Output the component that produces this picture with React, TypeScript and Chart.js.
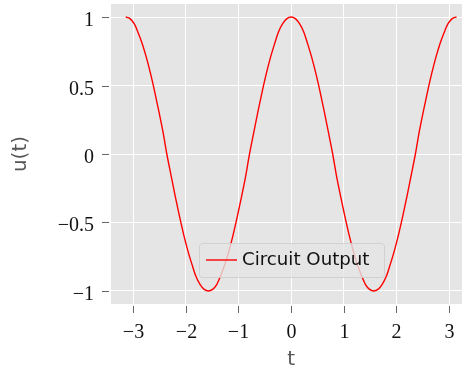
import React, { useEffect, useRef } from "react";
import { Chart, registerables } from "chart.js";

Chart.register(...registerables);

// Sampled circuit response u(t) over the window [-pi, pi]
const tValues = [
  -3.14, -3.06, -2.98, -2.91, -2.83, -2.75, -2.67, -2.59, -2.51, -2.43, -2.36,
  -2.28, -2.2, -2.12, -2.04, -1.96, -1.88, -1.81, -1.73, -1.65, -1.57, -1.49,
  -1.41, -1.34, -1.26, -1.18, -1.1, -1.02, -0.94, -0.86, -0.79, -0.71, -0.63,
  -0.55, -0.47, -0.39, -0.31, -0.24, -0.16, -0.08, 0, 0.08, 0.16, 0.24, 0.31,
  0.39, 0.47, 0.55, 0.63, 0.71, 0.79, 0.86, 0.94, 1.02, 1.1, 1.18, 1.26, 1.34,
  1.41, 1.49, 1.57, 1.65, 1.73, 1.81, 1.88, 1.96, 2.04, 2.12, 2.2, 2.28, 2.36,
  2.43, 2.51, 2.59, 2.67, 2.75, 2.83, 2.91, 2.98, 3.06, 3.14,
];
const uValues = [
  1, 0.988, 0.951, 0.891, 0.809, 0.707, 0.588, 0.454, 0.309, 0.156, 0, -0.156,
  -0.309, -0.454, -0.588, -0.707, -0.809, -0.891, -0.951, -0.988, -1, -0.988,
  -0.951, -0.891, -0.809, -0.707, -0.588, -0.454, -0.309, -0.156, 0, 0.156,
  0.309, 0.454, 0.588, 0.707, 0.809, 0.891, 0.951, 0.988, 1, 0.988, 0.951,
  0.891, 0.809, 0.707, 0.588, 0.454, 0.309, 0.156, 0, -0.156, -0.309, -0.454,
  -0.588, -0.707, -0.809, -0.891, -0.951, -0.988, -1, -0.988, -0.951, -0.891,
  -0.809, -0.707, -0.588, -0.454, -0.309, -0.156, 0, 0.156, 0.309, 0.454, 0.588,
  0.707, 0.809, 0.891, 0.951, 0.988, 1,
];
const xTicks = [-3, -2, -1, 0, 1, 2, 3];
const yTicks = [-1, -0.5, 0, 0.5, 1];
const seriesLabel = "Circuit Output";
const xTitle = "t";
const yTitle = "u(t)";

const fmt = (v: number) => (v < 0 ? "\u2212" + String(-v) : String(v));
const tickFont = '20px "Liberation Serif", serif';

const decor = {
  id: "decor",
  beforeDraw(chart: any) {
    const { ctx, chartArea: a } = chart;
    ctx.save();
    ctx.fillStyle = "#E5E5E5";
    ctx.fillRect(a.left, a.top, a.right - a.left, a.bottom - a.top);
    ctx.restore();
  },
  afterDraw(chart: any) {
    const { ctx, chartArea: a } = chart;
    const xs = chart.scales.x;
    const ys = chart.scales.y;
    ctx.save();

    // tick marks and tick labels
    ctx.strokeStyle = "#666666";
    ctx.lineWidth = 1;
    ctx.fillStyle = "#111111";
    ctx.font = tickFont;
    ctx.textBaseline = "alphabetic";
    ctx.textAlign = "right";
    for (const v of yTicks) {
      const py = Math.round(ys.getPixelForValue(v)) + 0.5;
      ctx.beginPath();
      ctx.moveTo(a.left - 9, py);
      ctx.lineTo(a.left - 2, py);
      ctx.stroke();
      ctx.fillText(fmt(v), a.left - 17, py + 8);
    }
    ctx.textAlign = "center";
    for (const v of xTicks) {
      const px = Math.round(xs.getPixelForValue(v)) + 0.5;
      ctx.beginPath();
      ctx.moveTo(px, a.bottom + 2);
      ctx.lineTo(px, a.bottom + 9);
      ctx.stroke();
      ctx.fillText(fmt(v), px, a.bottom + 34);
    }

    // axis titles
    ctx.fillStyle = "#555555";
    ctx.font = '20px "DejaVu Sans", sans-serif';
    ctx.textAlign = "center";
    ctx.textBaseline = "alphabetic";
    ctx.fillText(xTitle, xs.getPixelForValue(0), 365);
    ctx.textBaseline = "middle";
    ctx.translate(21, (a.top + a.bottom) / 2);
    ctx.rotate(-Math.PI / 2);
    ctx.fillText(yTitle, 0, 0);
    ctx.restore();

    // legend
    ctx.save();
    const bx = 199.5, by = 243.5, bw = 185, bh = 34, r = 3;
    ctx.beginPath();
    ctx.moveTo(bx + r, by);
    ctx.arcTo(bx + bw, by, bx + bw, by + bh, r);
    ctx.arcTo(bx + bw, by + bh, bx, by + bh, r);
    ctx.arcTo(bx, by + bh, bx, by, r);
    ctx.arcTo(bx, by, bx + bw, by, r);
    ctx.closePath();
    ctx.fillStyle = "rgba(229,229,229,0.8)";
    ctx.fill();
    ctx.strokeStyle = "rgba(204,204,204,0.8)";
    ctx.lineWidth = 1;
    ctx.stroke();
    ctx.strokeStyle = "#FF0000";
    ctx.lineWidth = 1.4;
    ctx.beginPath();
    ctx.moveTo(206, 260);
    ctx.lineTo(237, 260);
    ctx.stroke();
    ctx.fillStyle = "#111111";
    ctx.font = '18.2px "DejaVu Sans", sans-serif';
    ctx.textAlign = "left";
    ctx.textBaseline = "middle";
    ctx.fillText(seriesLabel, 242, 260);
    ctx.restore();
  },
};

export default function App() {
  const ref = useRef<HTMLCanvasElement>(null);
  useEffect(() => {
    if (!ref.current) return;
    const points = tValues.map((t, i) => ({ x: t, y: uValues[i] }));
    const chart = new Chart(ref.current, {
      type: "line",
      data: {
        datasets: [
          {
            label: seriesLabel,
            data: points,
            borderColor: "#FF0000",
            borderWidth: 1.4,
            pointRadius: 0,
            cubicInterpolationMode: "monotone",
            fill: false,
          },
        ],
      },
      options: {
        animation: false,
        responsive: false,
        devicePixelRatio: 1,
        layout: { padding: { top: 4, right: 0, left: 0, bottom: 0 } },
        plugins: { legend: { display: false }, tooltip: { enabled: false } },
        scales: {
          x: {
            type: "linear",
            min: -3.42,
            max: 3.245,
            afterBuildTicks: (s: any) => {
              s.ticks = xTicks.map((v) => ({ value: v }));
            },
            afterFit: (s: any) => {
              s.height = 65;
            },
            ticks: { display: false },
            grid: { color: "#FFFFFF", lineWidth: 1, drawTicks: false },
            border: { display: false },
          },
          y: {
            type: "linear",
            min: -1.095,
            max: 1.095,
            afterBuildTicks: (s: any) => {
              s.ticks = yTicks.map((v) => ({ value: v }));
            },
            afterFit: (s: any) => {
              s.width = 111;
            },
            ticks: { display: false },
            grid: { color: "#FFFFFF", lineWidth: 1, drawTicks: false },
            border: { display: false },
          },
        },
      },
      plugins: [decor],
    } as any);
    return () => chart.destroy();
  }, []);
  return (
    <div
      style={{
        position: "fixed",
        left: 0,
        top: 0,
        width: 462,
        height: 369,
        background: "#FFFFFF",
      }}
    >
      <canvas ref={ref} width={462} height={369} />
    </div>
  );
}
